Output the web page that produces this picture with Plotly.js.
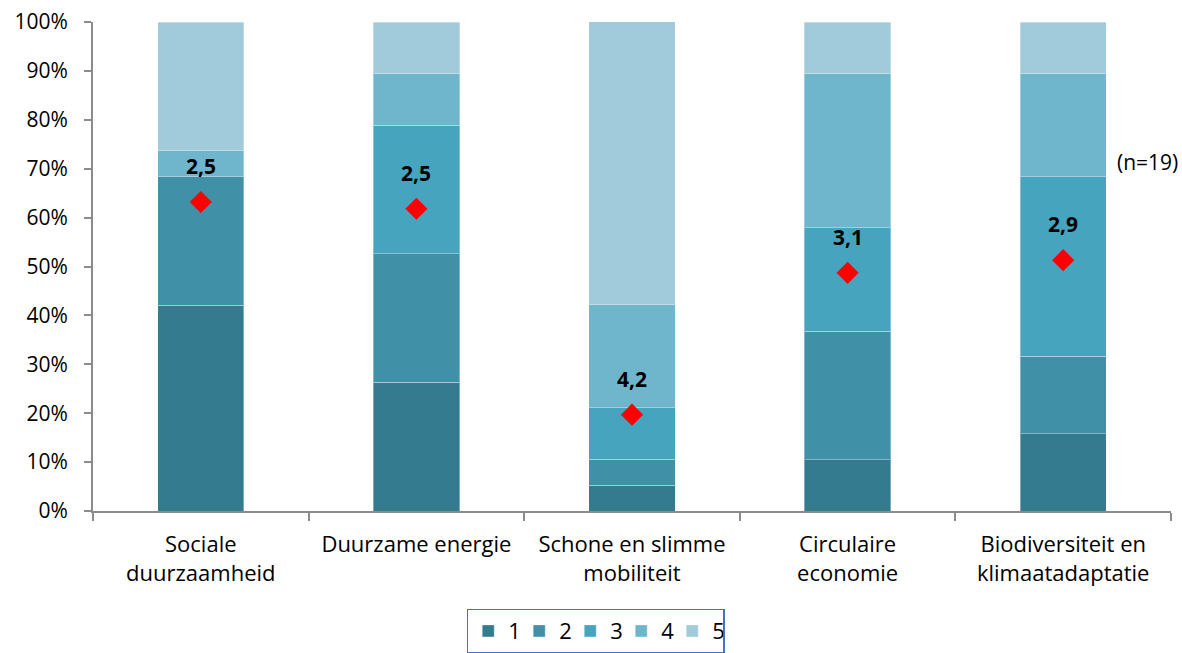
<!DOCTYPE html>
<html>
<head>
<meta charset="utf-8">
<script src="https://cdn.plot.ly/plotly-3.0.1.min.js"></script>
<style>html,body{margin:0;padding:0;background:#fff}#chart{width:1182px;height:653px}</style>
</head>
<body>
<div id="chart"></div>
<script>
const categories = ["Sociale<br>duurzaamheid", "Duurzame energie", "Schone en slimme<br>mobiliteit", "Circulaire<br>economie", "Biodiversiteit en<br>klimaatadaptatie"];
const seriesNames = ["1", "2", "3", "4", "5"];
// percentage shares per score (n=19)
const score1 = [42.1, 26.3, 5.3, 10.5, 15.8];
const score2 = [26.3, 26.3, 5.3, 26.3, 15.8];
const score3 = [0.0, 26.3, 10.5, 21.1, 36.8];
const score4 = [5.3, 10.5, 21.1, 31.6, 21.1];
const score5 = [26.3, 10.5, 57.9, 10.5, 10.5];
const meanPos = [63.2, 61.8, 19.7, 48.7, 51.3];
const meanLabels = ["2,5", "2,5", "4,2", "3,1", "2,9"];
const colors = ["#357B8F", "#4090A8", "#46A4BE", "#6FB5CB", "#A1CADA"];
const FONT = "'Open Sans', Lato, sans-serif";

const series = [score1, score2, score3, score4, score5];
const traces = series.map((vals, i) => ({
  type: "bar",
  name: seriesNames[i],
  x: categories,
  y: vals,
  marker: {color: colors[i], line: {color: "rgba(255,255,255,0.35)", width: 1}},
  hoverinfo: "skip"
}));
traces.push({
  type: "scatter",
  mode: "markers",
  x: categories,
  y: meanPos,
  marker: {symbol: "diamond", size: 17, color: "#FF0000"},
  showlegend: false,
  hoverinfo: "skip"
});

const annotations = categories.map((c, i) => ({
  x: c, y: meanPos[i], xref: "x", yref: "y",
  text: "<b>" + meanLabels[i] + "</b>", showarrow: false,
  yshift: 36, font: {size: 21, color: "#000", family: FONT}
}));
annotations.push({
  x: 1.008, y: 0.714, xref: "paper", yref: "paper", xanchor: "right", yanchor: "middle",
  text: "(n=19)", showarrow: false,
  font: {size: 21, color: "#000", family: FONT}
});

const layout = {
  width: 1182, height: 653,
  margin: {l: 93, r: 11, t: 22, b: 142},
  barmode: "stack",
  bargap: 0.6,
  paper_bgcolor: "#fff", plot_bgcolor: "#fff",
  font: {family: FONT, size: 20, color: "#000"},
  xaxis: {
    type: "category",
    showline: true, linecolor: "#8C8C8C", linewidth: 2,
    ticks: "outside", tickson: "boundaries", ticklen: 8, tickcolor: "#8C8C8C", tickwidth: 2,
    tickfont: {size: 22, family: FONT},
    ticklabelstandoff: 13,
    showgrid: false, zeroline: false, fixedrange: true
  },
  yaxis: {
    range: [0, 100],
    tickvals: [0,10,20,30,40,50,60,70,80,90,100],
    ticktext: ["0%","10%","20%","30%","40%","50%","60%","70%","80%","90%","100%"],
    showline: true, linecolor: "#8C8C8C", linewidth: 2,
    ticks: "outside", ticklen: 7, tickcolor: "#8C8C8C", tickwidth: 2,
    tickfont: {size: 21, family: FONT},
    ticklabelstandoff: 12,
    showgrid: false, zeroline: false, fixedrange: true
  },
  showlegend: true,
  legend: {
    orientation: "h", xref: "container", yref: "container",
    x: 0.504, xanchor: "center", y: 0.068, yanchor: "top",
    bordercolor: "#4472C4", borderwidth: 1.5,
    font: {size: 22, family: FONT}, traceorder: "normal",
    itemwidth: 30, entrywidth: 6, entrywidthmode: "pixels"
  },
  annotations: annotations
};
Plotly.newPlot("chart", traces, layout, {displayModeBar: false, staticPlot: true});
</script>
</body>
</html>
